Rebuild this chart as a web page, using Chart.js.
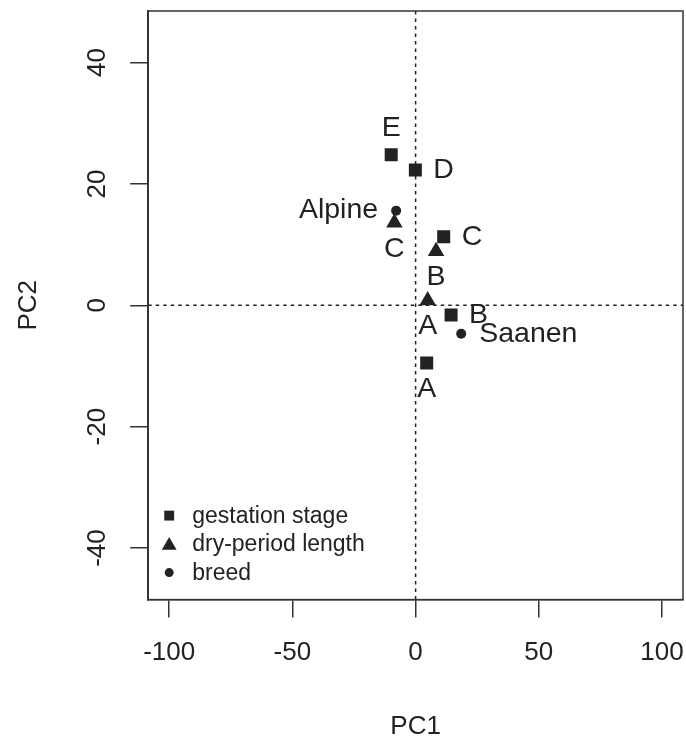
<!DOCTYPE html>
<html>
<head>
<meta charset="utf-8">
<script src="https://cdn.jsdelivr.net/npm/chart.js@4"></script>
<style>
  body { margin: 0; background: #fff; }
  #wrap { width: 686px; height: 736px; }
</style>
</head>
<body>
<div id="wrap"><canvas id="pcaChart" width="686" height="736"></canvas></div>
<script>
// scores
const gestLabels = ['A', 'B', 'C', 'D', 'E']
const gestX = [4.5, 14.4, 11.4, -0.1, -9.9]
const gestY = [-9.5, -1.6, 11.3, 22.3, 24.8]
const gestPos = ['below', 'right', 'right', 'right', 'above']

const dryLabels = ['A', 'B', 'C']
const dryX = [4.9, 8.3, -8.6]
const dryY = [0.8, 8.9, 13.6]
const dryPos = ['below', 'below', 'below']

const breedLabels = ['Alpine', 'Saanen']
const breedX = [-7.9, 18.5]
const breedY = [15.6, -4.7]
const breedPos = ['left', 'right']

const seriesNames = ['gestation stage', 'dry-period length', 'breed']

const xTicks = [-100, -50, 0, 50, 100]
const yTicks = [-40, -20, 0, 20, 40]

const ink = '#222'
const lineInk = '#333'
const fontFam = '"Liberation Sans", Arial, Helvetica, sans-serif'
Chart.defaults.font.family = fontFam
Chart.defaults.color = ink

function pts(xs, ys) {
  return xs.map((x, i) => ({ x: x, y: ys[i] }))
}

// box around plot + dotted zero lines + rotated y tick labels
const framePlugin = {
  id: 'frame',
  beforeDatasetsDraw(chart) {
    const { ctx, chartArea: a, scales } = chart
    ctx.save()
    ctx.strokeStyle = ink
    ctx.lineWidth = 1.5
    ctx.setLineDash([3.5, 4])
    const x0 = scales.x.getPixelForValue(0)
    const y0 = scales.y.getPixelForValue(0)
    ctx.beginPath()
    ctx.moveTo(x0, a.top); ctx.lineTo(x0, a.bottom)
    ctx.moveTo(a.left, y0); ctx.lineTo(a.right, y0)
    ctx.stroke()
    ctx.restore()
  },
  afterDraw(chart) {
    const { ctx, chartArea: a, scales } = chart
    ctx.save()
    ctx.strokeStyle = lineInk
    ctx.lineWidth = 1.5
    ctx.strokeRect(a.left, a.top, a.right - a.left, a.bottom - a.top)
    ctx.fillStyle = ink
    ctx.font = '26px ' + fontFam
    ctx.textAlign = 'center'
    ctx.textBaseline = 'middle'
    yTicks.forEach(v => {
      const py = scales.y.getPixelForValue(v)
      ctx.save()
      ctx.translate(a.left - 50, py)
      ctx.rotate(-Math.PI / 2)
      ctx.fillText(String(v), 0, 0)
      ctx.restore()
    })
    ctx.restore()
  }
}

// text next to each point, R style
const labelPlugin = {
  id: 'pointText',
  afterDatasetsDraw(chart) {
    const { ctx } = chart
    ctx.save()
    ctx.fillStyle = ink
    ctx.font = '28.5px ' + fontFam
    ctx.textBaseline = 'middle'
    chart.data.datasets.forEach((ds, di) => {
      const meta = chart.getDatasetMeta(di)
      meta.data.forEach((el, i) => {
        const pos = ds.labelPos[i]
        let tx = el.x, ty = el.y
        if (pos == 'below') { ctx.textAlign = 'center'; ty += 26 }
        else if (pos == 'above') { ctx.textAlign = 'center'; ty -= 27 }
        else if (pos == 'right') { ctx.textAlign = 'left'; tx += 18 }
        else { ctx.textAlign = 'right'; tx -= 18 }
        ctx.fillText(ds.labels[i], tx, ty)
      })
    })
    ctx.restore()
  }
}

// legend in the lower left corner of the plot
const legendPlugin = {
  id: 'boxLegend',
  afterDraw(chart) {
    const { ctx, chartArea: a } = chart
    const sizes = [7, 8.5, 4.5]
    ctx.save()
    ctx.font = '23px ' + fontFam
    ctx.textAlign = 'left'
    ctx.textBaseline = 'middle'
    chart.data.datasets.forEach((ds, i) => {
      const y = a.bottom - 84 + i * 28.5
      const sx = a.left + 21
      ctx.fillStyle = ink
      Chart.helpers.drawPoint(ctx, { pointStyle: ds.pointStyle, radius: sizes[i], rotation: 0, borderWidth: 0 }, sx, i == 1 ? y + 1.5 : y)
      ctx.fillStyle = ink
      ctx.fillText(seriesNames[i], a.left + 44, y + 1)
    })
    ctx.restore()
  }
}

const ctx = document.getElementById('pcaChart')

new Chart(ctx, {
  type: 'scatter',
  data: {
    datasets: [{
      label: seriesNames[0],
      data: pts(gestX, gestY),
      labels: gestLabels,
      labelPos: gestPos,
      pointStyle: 'rect',
      pointRadius: 9.2,
      backgroundColor: ink,
      borderWidth: 0,
    }, {
      label: seriesNames[1],
      data: pts(dryX, dryY),
      labels: dryLabels,
      labelPos: dryPos,
      pointStyle: 'triangle',
      pointRadius: 9.5,
      backgroundColor: ink,
      borderWidth: 0,
    }, {
      label: seriesNames[2],
      data: pts(breedX, breedY),
      labels: breedLabels,
      labelPos: breedPos,
      pointStyle: 'circle',
      pointRadius: 5,
      backgroundColor: ink,
      borderWidth: 0,
    }]
  },
  options: {
    responsive: false,
    animation: false,
    events: [],
    layout: { autoPadding: false, padding: { top: 11, right: 3, left: 0, bottom: 0 } },
    plugins: {
      legend: { display: false },
      tooltip: { enabled: false }
    },
    scales: {
      x: {
        type: 'linear',
        min: -108.5,
        max: 108.5,
        afterBuildTicks: s => { s.ticks = xTicks.map(v => ({ value: v })) },
        afterFit: s => { s.paddingLeft = 0; s.paddingRight = 0 },
        grid: { drawOnChartArea: false, drawTicks: true, tickLength: 18, tickColor: lineInk, lineWidth: 1.5 },
        border: { display: true, color: lineInk, width: 1.5 },
        ticks: { font: { size: 26 }, color: ink, padding: 20, maxRotation: 0, minRotation: 0 },
        title: { display: true, text: 'PC1', font: { size: 26 }, color: ink, padding: { top: 22, bottom: -6 } }
      },
      y: {
        type: 'linear',
        min: -48.5,
        max: 48.5,
        afterBuildTicks: s => { s.ticks = yTicks.map(v => ({ value: v })) },
        grid: { drawOnChartArea: false, drawTicks: true, tickLength: 18, tickColor: lineInk, lineWidth: 1.5 },
        border: { display: true, color: lineInk, width: 1.5 },
        ticks: { display: false },
        title: { display: true, text: 'PC2', font: { size: 26 }, color: ink, padding: { top: 13, bottom: 86 } }
      }
    }
  },
  plugins: [framePlugin, labelPlugin, legendPlugin]
})
</script>
</body>
</html>
